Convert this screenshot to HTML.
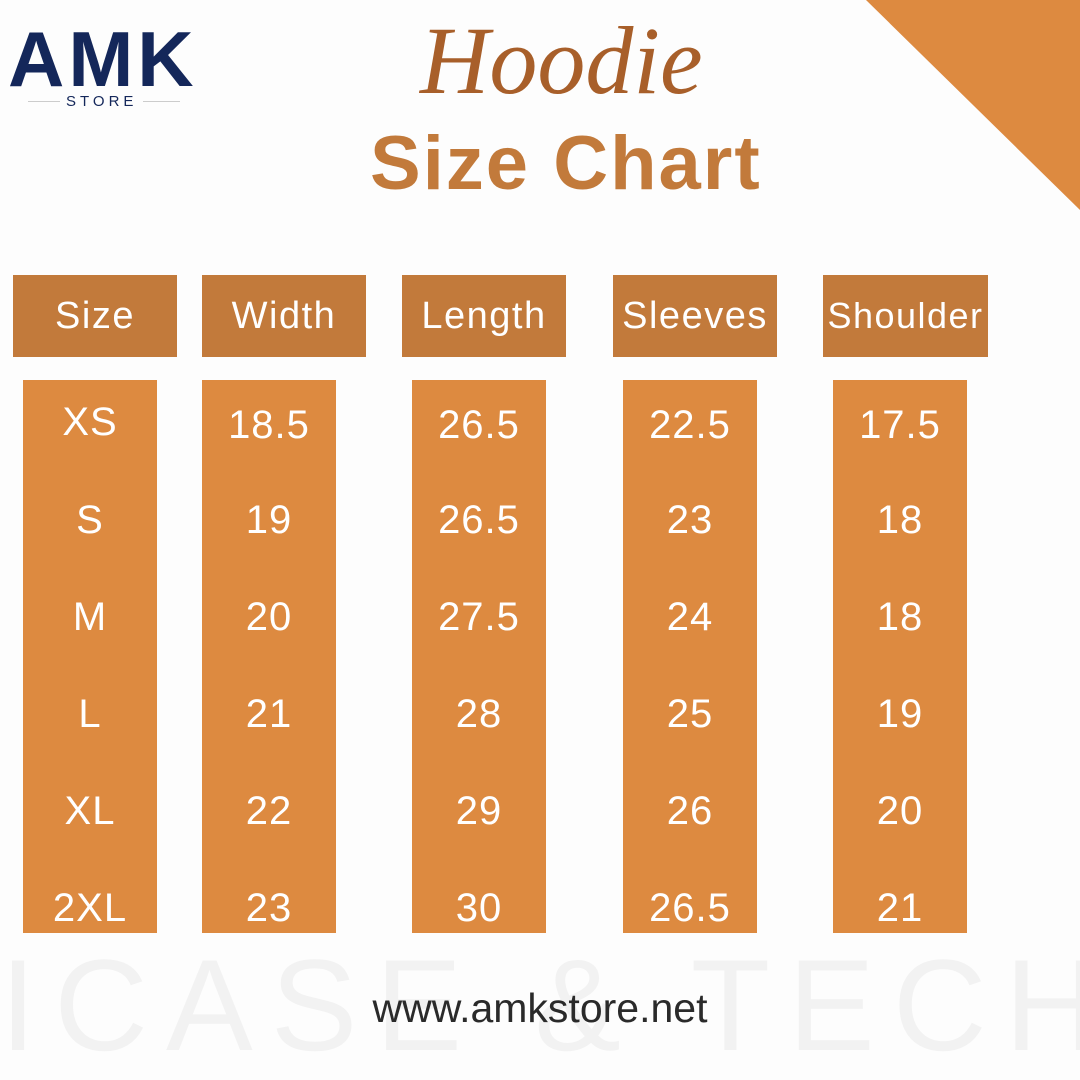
<!DOCTYPE html>
<html><head><meta charset="utf-8"><style>
body{margin:0;width:1080px;height:1080px;background:#fdfdfd;position:relative;overflow:hidden;font-family:"Liberation Sans",sans-serif}
.a{position:absolute}
.h{position:absolute;top:275px;height:82px;background:#c27a3b;color:#fff;font-size:38px;display:flex;align-items:center;justify-content:center;letter-spacing:1.5px}
.c{position:absolute;top:380px;height:553px;width:134px;background:#dd8a40;color:#fff;font-size:40px;text-align:center;letter-spacing:1px}
.c div{position:absolute;left:0;right:0;height:50px;line-height:50px}
</style></head><body>
<div class="a" style="left:866px;top:0;width:0;height:0;border-top:210px solid #dd8a40;border-left:214px solid transparent"></div>
<div class="a" style="left:0;top:930px;width:1080px;font-size:130px;color:#f2f2f2;letter-spacing:18px;white-space:nowrap">ICASE &amp; TECH</div>
<div class="a" style="left:8px;top:14px;font-size:78px;font-weight:bold;color:#14275a;letter-spacing:4px">AMK</div>
<div class="a" style="left:28px;top:101px;width:152px;border-top:1px solid #ccc"></div>
<div class="a" style="left:60px;top:93px;background:#fdfdfd;padding:0 6px;font-size:15px;color:#14275a;letter-spacing:4px">STORE</div>
<div class="a" style="left:420px;top:5px;font-family:'Liberation Serif',serif;font-style:italic;font-size:96px;color:#a85f2a">Hoodie</div>
<div class="a" style="left:370px;top:120px;font-size:76px;font-weight:bold;color:#c27a3b;letter-spacing:2px">Size Chart</div>
<div class="h" style="left:13px;width:164px">Size</div>
<div class="h" style="left:202px;width:164px">Width</div>
<div class="h" style="left:402px;width:164px">Length</div>
<div class="h" style="left:613px;width:164px">Sleeves</div>
<div class="h" style="left:823px;width:165px;font-size:36px">Shoulder</div>
<div class="c" style="left:23px"><div style="top:17px">XS</div><div style="top:115px">S</div><div style="top:212px">M</div><div style="top:309px">L</div><div style="top:406px">XL</div><div style="top:503px">2XL</div></div>
<div class="c" style="left:202px"><div style="top:20px">18.5</div><div style="top:115px">19</div><div style="top:212px">20</div><div style="top:309px">21</div><div style="top:406px">22</div><div style="top:503px">23</div></div>
<div class="c" style="left:412px"><div style="top:20px">26.5</div><div style="top:115px">26.5</div><div style="top:212px">27.5</div><div style="top:309px">28</div><div style="top:406px">29</div><div style="top:503px">30</div></div>
<div class="c" style="left:623px"><div style="top:20px">22.5</div><div style="top:115px">23</div><div style="top:212px">24</div><div style="top:309px">25</div><div style="top:406px">26</div><div style="top:503px">26.5</div></div>
<div class="c" style="left:833px"><div style="top:20px">17.5</div><div style="top:115px">18</div><div style="top:212px">18</div><div style="top:309px">19</div><div style="top:406px">20</div><div style="top:503px">21</div></div>
<div class="a" style="left:320px;top:985px;width:440px;text-align:center;font-size:41px;color:#2a2a2a">www.amkstore.net</div>
</body></html>
